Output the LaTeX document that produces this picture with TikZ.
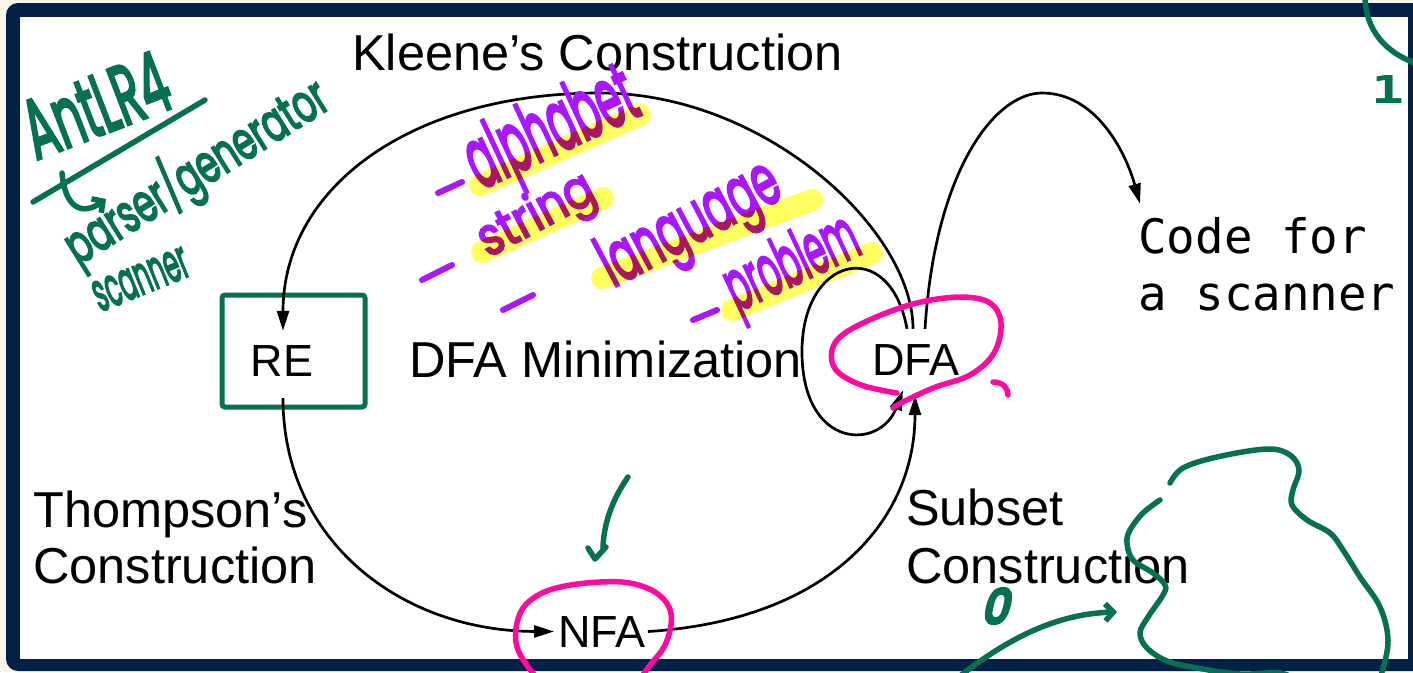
\documentclass[tikz,border=0pt]{standalone}
\usepackage{fontspec}
\setmainfont{Liberation Sans}
\newfontfamily\monofont{DejaVu Sans Mono}
\newfontfamily\handfont{Poppins}[FakeBold=4]
\newfontfamily\digitfont{Poppins}[FakeBold=9]
\usepackage{graphicx}
\usetikzlibrary{arrows.meta,calc}

\definecolor{slideNavy}{RGB}{2,33,71}
\definecolor{inkGreen}{RGB}{6,112,82}
\definecolor{inkPink}{RGB}{255,10,160}
\definecolor{inkPurple}{RGB}{170,22,255}
\definecolor{hiYellow}{RGB}{255,255,95}
\definecolor{paperCream}{RGB}{248,246,236}

% a handwritten word squeezed into a given width and height
\newcommand\handword[3]{\resizebox{#1pt}{#2pt}{\handfont #3}}

\begin{document}
\begin{tikzpicture}[x=1pt,y=-1pt,
  lbl/.style={font=\fontsize{50.5}{60}\selectfont, inner sep=0pt, anchor=base west},
  statelbl/.style={font=\fontsize{45}{54}\selectfont, inner sep=0pt, anchor=base},
  monotext/.style={font=\monofont\fontsize{47.5}{56}\selectfont, inner sep=0pt, anchor=base west},
  conn/.style={line width=2.7pt, -{Triangle[length=20pt,width=12pt]}},
  rebox/.style={draw=inkGreen, line width=5pt, rounded corners=3pt,
                minimum width=143pt, minimum height=112pt, inner sep=0pt},
  handG/.style={text=inkGreen, inner sep=0pt, anchor=base west},
  handP/.style={text=inkPurple, inner sep=0pt, anchor=base west},
  gink/.style={draw=inkGreen, line width=5.5pt, line cap=round, line join=round},
  pinkink/.style={draw=inkPink, line width=5.5pt, line cap=round, line join=round},
  pdash/.style={draw=inkPurple, line width=6pt, line cap=round},
  hilite/.style={draw=hiYellow, line width=22pt, line cap=round},
  barb/.style={-{Straight Barb[length=8pt,width=17pt]}}
]
\useasboundingbox (0,0) rectangle (1413,672);
\begin{scope}
\clip (0,0) rectangle (1413,672);

% page and slide frame
\fill[paperCream] (0,0) rectangle (1413,672);
\fill[slideNavy, rounded corners=12pt] (6,3) rectangle (1440,671);
\fill[white] (20,17) rectangle (1408,659);

% labels
\node[lbl] (kleene) at (352,70) {Kleene’s Construction};
\node[lbl] (dfamin) at (409,377) {DFA Minimization};
\node[lbl] (thomp1) at (33,527) {Thompson’s};
\node[lbl] (thomp2) at (33,583) {Construction};
\node[lbl] (subset1) at (906,525) {Subset};
\node[lbl] (subset2) at (906,583) {Construction};

% states
\node[statelbl] (re) at (282,376) {RE};
\node[statelbl] (dfa) at (916,375) {DFA};
\node[statelbl] (nfa) at (602,647) {NFA};
\node[monotext] (code1) at (1138,253) {Code for};
\node[monotext] (code2) at (1138,310) {a scanner};

% green box around RE
\node[rebox] (rebox) at (293.5,351) {};

% transitions
\draw[conn] ($(dfa.north)+(-3,-15)$) .. controls (913,230) and (765,93) .. (600,93)
            .. controls (410,93) and (283,188) .. ($(re.north)+(1,-14)$);
\draw[conn] ($(re.south)+(1,22)$) .. controls (283,540) and (400,631) .. ($(nfa.west)+(-4,0)$);
\draw[conn] ($(nfa.east)+(2,0)$) .. controls (830,620) and (915,520) .. ($(dfa.south)+(-1,20)$);
\draw[conn] ($(dfa.north)+(-9,-15)$) .. controls (890,235) and (800,255) .. (802,355)
            .. controls (804,450) and (880,450) .. ($(dfa.south)+(-13,15)$);
\draw[conn] ($(dfa.north)+(9,-15)$) .. controls (935,170) and (995,93) .. (1042,93)
            .. controls (1095,93) and (1125,150) .. ($(code1.north west)+(2,-13)$);

% green notes, top left
\node[handG, rotate=21] (antlr) at (36,160) {\handword{150}{60}{AntLR4}};
\draw[gink] (33,202) -- (205,100);
\draw[gink, barb] (62,173) .. controls (65,208) and (82,216) .. (106,199);
\node[handG, rotate=32] (pgen) at (78,266) {\handword{300}{50}{parser/generator}};
\node[handG, rotate=22] (scan) at (100,312) {\handword{100}{30}{scanner}};

% purple notes with highlighter
\draw[pdash] (438,193) -- (462,182);
\draw[pdash] (422,280) -- (452,265);
\draw[pdash] (503,310) -- (533,295);
\draw[pdash] (693,320) -- (717,310);
\node[handP, rotate=25] (walpha) at (480,190) {\handword{180}{62}{alphabet}};
\node[handP, rotate=28] (wstring) at (488,258) {\handword{125}{40}{string}};
\node[handP, rotate=28] (wlang) at (613,288) {\handword{195}{52}{language}};
\node[handP, rotate=25] (wprob) at (737,312) {\handword{140}{52}{problem}};
\begin{scope}[blend mode=multiply]
\draw[hilite] (480,185) -- (640,115);
\draw[hilite] (482,252) -- (603,198);
\draw[hilite] (602,278) -- (812,200);
\draw[hilite] (732,310) -- (872,253);
\end{scope}

% pink rings
\draw[pinkink] plot[smooth, tension=0.6] coordinates {
  (897,393) (861,385) (836,370) (832,350) (845,333) (881,315) (921,302)
  (962,297) (990,303) (1001,323) (994,353) (970,375) (933,388) (901,403) (893,408)};
\draw[pinkink] (993,382) .. controls (1003,382) and (1008,388) .. (1008,395);
\draw[pinkink] plot[smooth, tension=0.6] coordinates {
  (540,682) (526,664) (517,647) (516,628) (523,608) (540,594) (565,586)
  (600,582) (630,583) (655,592) (669,607) (671,625) (664,647) (650,665) (638,682)};

% green check above NFA
\draw[gink] (628,477) .. controls (612,500) and (603,525) .. (603,550);
\draw[gink] (588,548) -- (595,559) -- (606,547);

% green notes, right side
\draw[gink] (1365,-2) .. controls (1366,30) and (1385,52) .. (1415,63);
\node[handG] (one) at (1371,103) {\resizebox{33pt}{28pt}{\monofont\bfseries 1}};
\node[handG, xslant=0.25] (zero) at (981,623) {\resizebox{26pt}{34pt}{\digitfont 0}};
\draw[gink, barb] (960,676) .. controls (1000,645) and (1050,614) .. (1117,612);
\draw[gink] plot[smooth, tension=0.6] coordinates {
  (1160,500) (1143,513) (1130,530) (1127,543) (1133,560) (1153,573) (1165,585)
  (1163,595) (1148,617) (1140,633) (1147,648) (1167,661) (1197,668) (1240,674)
  (1280,673) (1300,682)};
\draw[gink] plot[smooth, tension=0.6] coordinates {
  (1170,483) (1183,468) (1217,457) (1267,449) (1290,455) (1299,470) (1293,490)
  (1292,505) (1307,520) (1330,533) (1343,550) (1360,577) (1380,607) (1388,640)
  (1382,672) (1375,690)};
\end{scope}
\end{tikzpicture}
\end{document}
